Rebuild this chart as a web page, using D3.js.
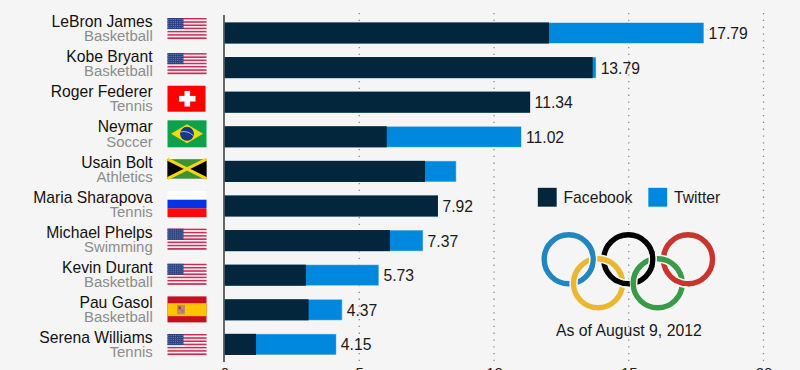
<!DOCTYPE html>
<html>
<head>
<meta charset="utf-8">
<script src="https://cdn.jsdelivr.net/npm/d3@7"></script>
<style>
  html, body { margin: 0; padding: 0; background: #f5f5f5; overflow: hidden; }
  svg { display: block; font-family: "Liberation Sans", Arial, sans-serif; }
  .axis path { display: none; }
  .axis text { font-size: 15px; fill: #222; font-family: "Liberation Sans", Arial, sans-serif; }
</style>
</head>
<body>
<div id="chart"></div>
<script>
var names = ["LeBron James", "Kobe Bryant", "Roger Federer", "Neymar", "Usain Bolt", "Maria Sharapova", "Michael Phelps", "Kevin Durant", "Pau Gasol", "Serena Williams"];
var sports = ["Basketball", "Basketball", "Tennis", "Soccer", "Athletics", "Tennis", "Swimming", "Basketball", "Basketball", "Tennis"];
var flags = ["us", "us", "ch", "br", "jm", "ru", "us", "us", "es", "us"];
var facebook = [12.04, 13.66, 11.34, 6.02, 7.44, 7.92, 6.14, 3.02, 3.12, 1.17];
var twitter = [5.75, 0.13, 0, 5.00, 1.16, 0, 1.23, 2.71, 1.25, 2.98];
// Bolt has no total printed on the original
var totals = ["17.79", "13.79", "11.34", "11.02", "", "7.92", "7.37", "5.73", "4.37", "4.15"];
var xTicks = [0, 5, 10, 15, 20];

var seriesNames = ["Facebook", "Twitter"];
var seriesColors = ["#03263d", "#0087de"];

var bg = "#f5f5f5";
var width = 800, height = 370;

var svg = d3.select("#chart").append("svg")
    .attr("width", width)
    .attr("height", height);

var x = d3.scaleLinear().domain([0, 20]).range([224.5, 763.5]);
var y = d3.scaleBand().domain(names).range([15.7, 361.7]).paddingInner(0.39).paddingOuter(0.195);
// the label and flag column runs on a slightly different pitch than the bars
var yLabel = d3.scalePoint().domain(names).range([28.5, 344.5]);

// dotted gridlines
svg.append("g").selectAll("line")
    .data(xTicks.slice(1))
    .join("line")
    .attr("x1", d => x(d))
    .attr("x2", d => x(d))
    .attr("y1", 13)
    .attr("y2", 366)
    .attr("stroke", "#8a8a8a")
    .attr("stroke-width", 1.3)
    .attr("stroke-dasharray", "1.3,5.5");

// bars
var rows = svg.append("g").selectAll("g")
    .data(names)
    .join("g");

rows.append("rect")
    .attr("x", d => x(0))
    .attr("y", d => y(d))
    .attr("width", (d, i) => x(facebook[i] + twitter[i]) - x(0))
    .attr("height", y.bandwidth())
    .attr("fill", seriesColors[1])
    .attr("stroke", "#fff")
    .attr("stroke-opacity", 0.55);

rows.append("rect")
    .attr("x", d => x(0))
    .attr("y", d => y(d))
    .attr("width", (d, i) => x(facebook[i]) - x(0))
    .attr("height", y.bandwidth())
    .attr("fill", seriesColors[0]);

rows.append("text")
    .attr("x", (d, i) => x(facebook[i] + twitter[i]) + 4.5)
    .attr("y", d => y(d) + y.bandwidth() / 2 + 6)
    .attr("font-size", 15.7)
    .attr("fill", "#1a1a1a")
    .text((d, i) => totals[i]);

// names and sports
var labels = svg.append("g").selectAll("g")
    .data(names)
    .join("g")
    .attr("text-anchor", "end");

labels.append("text")
    .attr("x", 152.7)
    .attr("y", d => yLabel(d) - 1.4)
    .attr("font-size", 15.7)
    .attr("fill", "#111")
    .text(d => d);

labels.append("text")
    .attr("x", 152.7)
    .attr("y", d => yLabel(d) + 12.7)
    .attr("font-size", 14.9)
    .attr("fill", "#8c8c8c")
    .text((d, i) => sports[i]);

// flags
var flagW = 39;
var flagH = { us: 21, ch: 26, br: 27, jm: 19.5, ru: 26, es: 26 };

function drawFlag(g, code) {
    var h = flagH[code], w = flagW;
    if (code == "us") {
        d3.range(13).forEach(function(k) {
            g.append("rect").attr("y", k * h / 13).attr("width", w).attr("height", h / 13 + 0.1)
                .attr("fill", k % 2 ? "#f5eef0" : "#c92c55");
        });
        g.append("rect").attr("width", 16).attr("height", 11).attr("fill", "#2c4582");
        // star field, only a texture at this size
        d3.range(5).forEach(function(r) {
            d3.range(7).forEach(function(c) {
                g.append("rect").attr("x", 1 + c * 2.2).attr("y", 1 + r * 2)
                    .attr("width", 0.8).attr("height", 0.8).attr("fill", "#8d9cc4");
            });
        });
    }
    if (code == "ch") {
        g.append("rect").attr("width", w - 1).attr("height", h).attr("fill", "#fe0000");
        g.append("rect").attr("x", 11.5).attr("y", 10.2).attr("width", 16.5).attr("height", 5.6).attr("fill", "#fff");
        g.append("rect").attr("x", 17).attr("y", 5.2).attr("width", 5.6).attr("height", 15.6).attr("fill", "#fff");
    }
    if (code == "br") {
        g.append("rect").attr("width", w).attr("height", h).attr("fill", "#0ca14a");
        g.append("polygon").attr("points", `3.5,${h / 2} ${w / 2},4 ${w - 3.5},${h / 2} ${w / 2},${h - 4}`).attr("fill", "#f5d90a");
        g.append("circle").attr("cx", w / 2).attr("cy", h / 2).attr("r", 7).attr("fill", "#123a86");
        g.append("path").attr("d", `M${w / 2 - 6.5},${h / 2 - 2}Q${w / 2 + 1},${h / 2 - 3.5} ${w / 2 + 6.5},${h / 2 + 2}`)
            .attr("fill", "none").attr("stroke", "#cfd8e8").attr("stroke-width", 0.8);
    }
    if (code == "jm") {
        g.append("rect").attr("width", w).attr("height", h).attr("fill", "#3a9335");
        g.append("polygon").attr("points", `0,0 ${w / 2},${h / 2} 0,${h}`).attr("fill", "#000");
        g.append("polygon").attr("points", `${w},0 ${w / 2},${h / 2} ${w},${h}`).attr("fill", "#000");
        g.append("path").attr("d", `M0,0L${w},${h}M${w},0L0,${h}`).attr("stroke", "#f7d417").attr("stroke-width", 3);
    }
    if (code == "ru") {
        ["#ffffff", "#0433e6", "#fa0a0a"].forEach(function(c, k) {
            g.append("rect").attr("y", k * h / 3).attr("width", w).attr("height", h / 3 + 0.1).attr("fill", c);
        });
    }
    if (code == "es") {
        g.append("rect").attr("width", w).attr("height", h).attr("fill", "#c60f1e");
        g.append("rect").attr("y", 6.8).attr("width", w).attr("height", 13).attr("fill", "#ffc400");
        // crest
        g.append("rect").attr("x", 9.5).attr("y", 8.5).attr("width", 8).attr("height", 9.5).attr("fill", "#c98a5a");
        g.append("rect").attr("x", 11).attr("y", 10).attr("width", 2.4).attr("height", 3).attr("fill", "#b8323a");
        g.append("rect").attr("x", 13.8).attr("y", 13).attr("width", 2.4).attr("height", 3.2).attr("fill", "#7f7fa8");
    }
}

svg.append("g").selectAll("g")
    .data(names)
    .join("g")
    .attr("transform", (d, i) => `translate(167.5,${yLabel(d) - flagH[flags[i]] / 2})`)
    .each(function(d, i) { drawFlag(d3.select(this), flags[i]); });

// zero line
svg.append("line")
    .attr("x1", x(0) - 0.5)
    .attr("x2", x(0) - 0.5)
    .attr("y1", 15)
    .attr("y2", 362)
    .attr("stroke", "#444")
    .attr("stroke-width", 1.6);

// x axis, sits mostly below the visible area
svg.append("g")
    .attr("class", "axis")
    .attr("transform", "translate(0,367)")
    .call(d3.axisBottom(x).tickValues(xTicks).tickSize(0).tickPadding(0));

// legend
var legendX = [537.5, 648];
var legend = svg.append("g").selectAll("g")
    .data(seriesNames)
    .join("g")
    .attr("transform", (d, i) => `translate(${legendX[i]},187.5)`);

legend.append("rect")
    .attr("width", 19.5)
    .attr("height", 19.5)
    .attr("fill", (d, i) => seriesColors[i])
    .attr("stroke", "#fff")
    .attr("stroke-opacity", 0.6);

legend.append("text")
    .attr("x", 26)
    .attr("y", 15.3)
    .attr("font-size", 15.7)
    .attr("fill", "#1a1a1a")
    .text(d => d);

// olympic rings
var ringColors = ["#2085c0", "#000000", "#c9342c", "#e9b731", "#3a9a48"];
var ringX = [568.7, 628.3, 688, 598, 657.7];
var ringY = [259.3, 259.3, 259.3, 283.3, 283.3];
// where an upper-row ring passes back over a lower-row one: ring index, angle in degrees
var overRing = [0, 1, 1, 2];
var overAngle = [90, 193.7, 90, 193.7];

var ringR = 24.5, ringW = 5.4;
var rings = svg.append("g");

ringColors.forEach(function(c, i) {
    rings.append("circle").attr("cx", ringX[i]).attr("cy", ringY[i]).attr("r", ringR)
        .attr("fill", "none").attr("stroke", bg).attr("stroke-width", ringW + 3);
    rings.append("circle").attr("cx", ringX[i]).attr("cy", ringY[i]).attr("r", ringR)
        .attr("fill", "none").attr("stroke", c).attr("stroke-width", ringW);
});

overRing.forEach(function(r, k) {
    var a = overAngle[k] * Math.PI / 180;
    var band = d3.arc().innerRadius(ringR - ringW / 2).outerRadius(ringR + ringW / 2);
    var g = rings.append("g").attr("transform", `translate(${ringX[r]},${ringY[r]})`);
    g.append("path")
        .attr("d", band({ startAngle: a - 0.3, endAngle: a + 0.3 }))
        .attr("fill", ringColors[r]);
    // erase the lower ring just beside this one
    [[ringR - ringW / 2 - 1.5, ringR - ringW / 2], [ringR + ringW / 2, ringR + ringW / 2 + 1.5]].forEach(function(b) {
        g.append("path")
            .attr("d", d3.arc().innerRadius(b[0]).outerRadius(b[1])({ startAngle: a - 0.25, endAngle: a + 0.25 }))
            .attr("fill", bg);
    });
});

svg.append("text")
    .attr("x", 556)
    .attr("y", 335.7)
    .attr("font-size", 15.8)
    .attr("fill", "#1a1a1a")
    .text("As of August 9, 2012");
</script>
</body>
</html>
